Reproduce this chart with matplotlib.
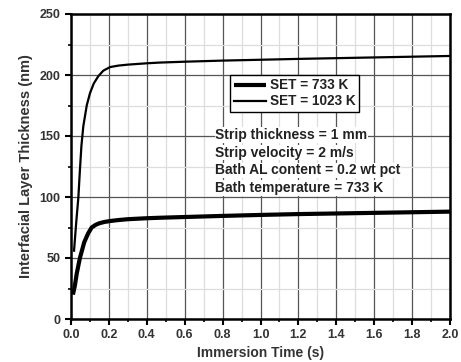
import matplotlib
matplotlib.use("Agg")
import matplotlib.pyplot as plt
from matplotlib.ticker import MultipleLocator

plt.rcParams['font.family'] = ['Liberation Sans', 'DejaVu Sans']
plt.rcParams['font.weight'] = 'bold'

# Data
t_733 = [0.01, 0.02, 0.03, 0.047, 0.07, 0.09, 0.109, 0.13, 0.15, 0.175, 0.206, 0.25,
         0.3, 0.4, 0.47, 0.6, 0.8, 1.0, 1.2, 1.4, 1.6, 1.8, 2.0]
v_733 = [20, 27, 37, 50, 63, 70, 75, 77.2, 78.5, 79.5, 80.3, 81.1,
         81.8, 82.6, 83, 83.6, 84.5, 85.3, 86, 86.5, 87, 87.5, 88]

t_1023 = [0.016, 0.028, 0.039, 0.047, 0.055, 0.065, 0.083, 0.1, 0.12, 0.144, 0.17,
          0.206, 0.25, 0.3, 0.4, 0.47, 0.6, 0.8, 1.0, 1.2, 1.4, 1.6, 1.8, 2.0]
v_1023 = [56, 80, 100, 122, 142, 158, 175, 185, 193, 199, 203.5,
          206.5, 207.7, 208.5, 209.6, 210.2, 210.9, 211.8, 212.5, 213.2, 213.8, 214.4, 215, 215.6]

labels = ["SET = 733 K", "SET = 1023 K"]
notes = ["Strip thickness = 1 mm", "Strip velocity = 2 m/s",
         "Bath AL content = 0.2 wt pct", "Bath temperature = 733 K"]

fig = plt.figure(figsize=(4.61, 3.62), dpi=100)
ax = fig.add_axes([71/461, 43/362, 379/461, 305/362])

ax.plot(t_733, v_733, color='black', lw=3.0, label=labels[0], solid_capstyle='butt', zorder=3)
ax.plot(t_1023, v_1023, color='black', lw=1.6, label=labels[1], zorder=3)

ax.set_xlim(0, 2.0)
ax.set_ylim(0, 250)
ax.xaxis.set_major_locator(MultipleLocator(0.2))
ax.xaxis.set_minor_locator(MultipleLocator(0.1))
ax.yaxis.set_major_locator(MultipleLocator(50))
ax.yaxis.set_minor_locator(MultipleLocator(25))
ax.xaxis.set_major_formatter(matplotlib.ticker.FormatStrFormatter('%.1f'))

ax.grid(which='major', color='#555555', lw=0.9, zorder=0)
ax.grid(which='minor', color='#dddddd', lw=0.9, zorder=0)
ax.set_axisbelow(True)

for s in ax.spines.values():
    s.set_linewidth(1.8)
    s.set_color('black')

ax.tick_params(which='major', direction='out', length=4, width=1.5, labelsize=9,
               labelcolor='#333333')
ax.tick_params(which='minor', direction='out', length=2.5, width=1.2)

ax.set_xlabel("Immersion Time (s)", fontsize=10, fontweight='bold', color='#333333', labelpad=3)
ax.set_ylabel("Interfacial Layer Thickness (nm)", fontsize=10.5, fontweight='bold', color='#333333', labelpad=5)

leg = ax.legend(loc='upper left', bbox_to_anchor=(0.42, 0.80), fontsize=9.8,
                frameon=True, fancybox=False, edgecolor='black', framealpha=1,
                handlelength=2.4, handletextpad=0.3, borderpad=0.25, labelspacing=0.15,
                borderaxespad=0)
leg.get_frame().set_linewidth(1.0)
for txt in leg.get_texts():
    txt.set_color('#222222')

ys = [0.603, 0.545, 0.487, 0.43]
for note, y in zip(notes, ys):
    ax.text(0.381, y, note, transform=ax.transAxes, fontsize=10, fontweight='bold',
            color='#222222', va='center', ha='left',
            bbox=dict(facecolor='white', edgecolor='none', pad=0.5), zorder=4)

fig.savefig("out.png", dpi=100)
